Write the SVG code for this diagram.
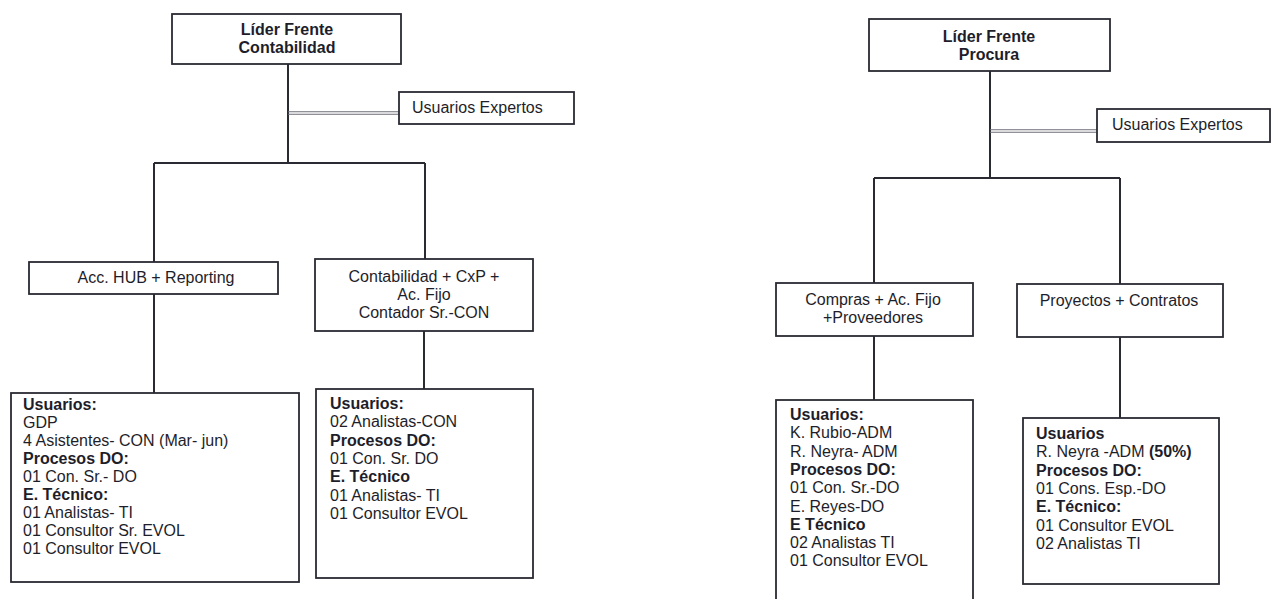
<svg xmlns="http://www.w3.org/2000/svg" width="1272" height="599" viewBox="0 0 1272 599">
  <style>
    .box { fill: #ffffff; stroke: #2a2a33; stroke-width: 1.8; }
    .link { fill: none; stroke: #2a2a33; stroke-width: 2; }
    .dbl { fill: none; stroke: #6e6e78; stroke-width: 1.1; }
    text { font-family: "Liberation Sans", Arial, sans-serif; font-size: 16px; fill: #1e1e2a; }
    .b { font-weight: bold; }
    .c { text-anchor: middle; }
  </style>
  <rect width="1272" height="599" fill="#ffffff"/>

  <!-- connectors -->
  <g id="connectors">
    <!-- Contabilidad tree -->
    <path class="link" d="M288 64 V163 M154 163 H425 M154 163 V262 M425 163 V259 M154 294 V393 M424 331 V389"/>
    <path class="dbl" d="M288 111.7 H399 M288 114.3 H399"/>
    <!-- Procura tree -->
    <path class="link" d="M990 71 V178 M874 178 H1120 M874 178 V283 M1120 178 V284 M874 336 V400 M1120 337 V418"/>
    <path class="dbl" d="M990 129.7 H1097 M990 132.3 H1097"/>
  </g>

  <!-- Contabilidad -->
  <g id="lider-contabilidad">
    <rect class="box" x="172" y="14" width="229" height="50"/>
    <text class="b c" x="287" y="35">Líder Frente</text>
    <text class="b c" x="287" y="53">Contabilidad</text>
  </g>
  <g id="expertos-contabilidad">
    <rect class="box" x="399" y="92" width="175" height="32"/>
    <text x="412" y="113">Usuarios Expertos</text>
  </g>
  <g id="acc-hub">
    <rect class="box" x="29" y="262" width="249" height="32"/>
    <text class="c" x="156" y="283">Acc. HUB + Reporting</text>
  </g>
  <g id="contabilidad-cxp">
    <rect class="box" x="315" y="259" width="218" height="72"/>
    <text class="c" x="424" y="282">Contabilidad + CxP +</text>
    <text class="c" x="424" y="300">Ac. Fijo</text>
    <text class="c" x="424" y="318">Contador Sr.-CON</text>
  </g>
  <g id="equipo-acc-hub">
    <rect class="box" x="11" y="393" width="288" height="189"/>
    <text x="23" y="410" class="b">Usuarios:</text>
    <text x="23" y="428">GDP</text>
    <text x="23" y="446">4 Asistentes- CON (Mar- jun)</text>
    <text x="23" y="464" class="b">Procesos DO:</text>
    <text x="23" y="482">01 Con. Sr.- DO</text>
    <text x="23" y="500" class="b">E. Técnico:</text>
    <text x="23" y="518">01 Analistas- TI</text>
    <text x="23" y="536">01 Consultor Sr. EVOL</text>
    <text x="23" y="554">01 Consultor EVOL</text>
  </g>
  <g id="equipo-contabilidad-cxp">
    <rect class="box" x="316" y="389" width="217" height="189"/>
    <text x="330" y="409" class="b">Usuarios:</text>
    <text x="330" y="427.3">02 Analistas-CON</text>
    <text x="330" y="445.6" class="b">Procesos DO:</text>
    <text x="330" y="463.9">01 Con. Sr. DO</text>
    <text x="330" y="482.2" class="b">E. Técnico</text>
    <text x="330" y="500.5">01 Analistas- TI</text>
    <text x="330" y="518.8">01 Consultor EVOL</text>
  </g>

  <!-- Procura -->
  <g id="lider-procura">
    <rect class="box" x="869" y="19" width="241" height="52"/>
    <text class="b c" x="989" y="42">Líder Frente</text>
    <text class="b c" x="989" y="60">Procura</text>
  </g>
  <g id="expertos-procura">
    <rect class="box" x="1097" y="109" width="173" height="33"/>
    <text x="1112" y="130">Usuarios Expertos</text>
  </g>
  <g id="compras">
    <rect class="box" x="776" y="283" width="197" height="53"/>
    <text class="c" x="873" y="305">Compras + Ac. Fijo</text>
    <text class="c" x="873" y="323">+Proveedores</text>
  </g>
  <g id="proyectos">
    <rect class="box" x="1017" y="284" width="206" height="53"/>
    <text class="c" x="1119" y="306">Proyectos + Contratos</text>
  </g>
  <g id="equipo-compras">
    <rect class="box" x="776" y="400" width="197" height="210"/>
    <text x="790" y="420" class="b">Usuarios:</text>
    <text x="790" y="438.3">K. Rubio-ADM</text>
    <text x="790" y="456.6">R. Neyra- ADM</text>
    <text x="790" y="474.9" class="b">Procesos DO:</text>
    <text x="790" y="493.2">01 Con. Sr.-DO</text>
    <text x="790" y="511.5">E. Reyes-DO</text>
    <text x="790" y="529.8" class="b">E Técnico</text>
    <text x="790" y="548.1">02 Analistas TI</text>
    <text x="790" y="566.4">01 Consultor EVOL</text>
  </g>
  <g id="equipo-proyectos">
    <rect class="box" x="1023" y="418" width="196" height="166"/>
    <text x="1036" y="439" class="b">Usuarios</text>
    <text x="1036" y="457.3">R. Neyra -ADM <tspan class="b">(50%)</tspan></text>
    <text x="1036" y="475.6" class="b">Procesos DO:</text>
    <text x="1036" y="493.9">01 Cons. Esp.-DO</text>
    <text x="1036" y="512.2" class="b">E. Técnico:</text>
    <text x="1036" y="530.5">01 Consultor EVOL</text>
    <text x="1036" y="548.8">02 Analistas TI</text>
  </g>
</svg>
